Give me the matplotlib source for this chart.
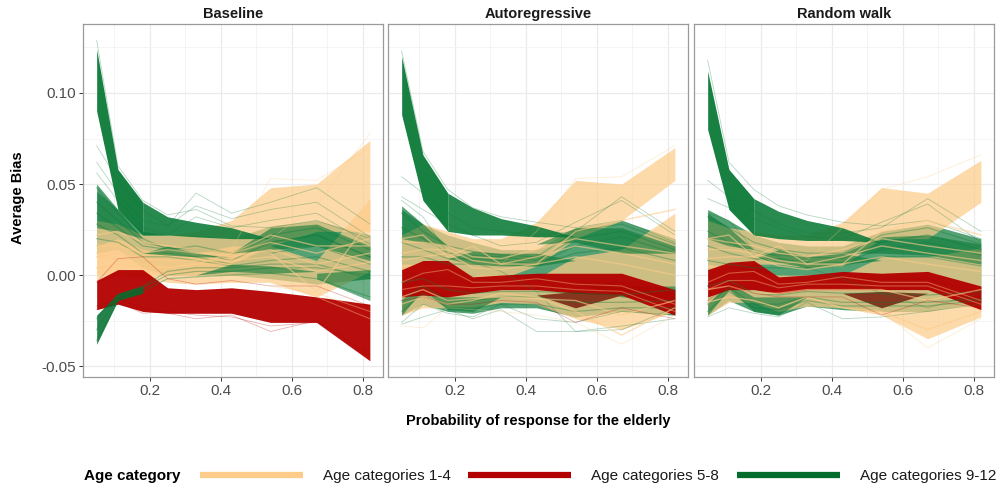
import numpy as np
import matplotlib
matplotlib.use("Agg")
from matplotlib import pyplot as plt
from matplotlib.lines import Line2D

plt.rcParams['font.family'] = ['Liberation Sans', 'DejaVu Sans']

PEACH = "#FDCC8A"
RED = "#B30000"
GREEN = "#006D2C"
MID_GREEN = "#0B7A38"
nan = np.nan

panel_titles = ["Baseline", "Autoregressive", "Random walk"]
legend_labels = ["Age categories 1-4", "Age categories 5-8", "Age categories 9-12"]
prob_elderly = [0.05, 0.11, 0.18, 0.25, 0.33, 0.43, 0.54, 0.67, 0.82]

# bands are (lower edge, upper edge), lines are single runs, all read at prob_elderly
base_green_wide = [([.012, .014, .004, .000, .000, .000, -.002, -.005, -.002], [.050, .036, .024, .022, .022, .020, .027, .030, .022])]
base_spike = [([.090, .036, .022, nan, nan, nan, nan, nan, nan], [.124, .058, .040, nan, nan, nan, nan, nan, nan])]
base_fan = [([nan, nan, .022, .022, .021, .020, .020, nan, nan], [nan, nan, .040, .032, .029, .026, .020, nan, nan])]
base_peach = [
    ([.000, .001, .000, .000, .000, .006, .016, .024, .024], [.030, .028, .022, .022, .024, .030, .048, .050, .074]),
    ([-.004, .000, -.002, -.004, -.005, -.004, -.004, -.012, .002], [.016, .020, .014, .012, .012, .016, .016, .008, .042]),
]
base_patches = [
    ([nan, nan, .012, .011, .010, .010, nan, nan, nan], [nan, nan, .012, .016, .012, .010, nan, nan, nan]),
    ([nan, nan, nan, nan, nan, .012, .014, .016, .008], [nan, nan, nan, nan, nan, .012, .026, .028, .016]),
    ([nan, nan, nan, nan, .000, .002, .001, .002, nan], [nan, nan, nan, nan, .000, .006, .005, .002, nan]),
    ([nan, nan, nan, nan, nan, nan, nan, -.002, -.014], [nan, nan, nan, nan, nan, nan, nan, .001, .003]),
    ([.026, .024, .020, nan, nan, nan, nan, nan, nan], [.046, .036, .020, nan, nan, nan, nan, nan, nan]),
]
base_green_lines = [
    [.048, .034, .020, .014, .016, .012, .022, .026, .014],
    [.040, .030, .018, .015, .014, .012, .018, .022, .010],
    [.034, .026, .016, .014, .012, .008, .018, .022, .010],
    [.028, .022, .012, .012, .010, .006, .012, .016, .006],
    [.020, .018, .010, .010, .008, .005, .008, .010, .002],
    [-.024, -.011, -.006, .002, .004, .004, .006, .006, -.002],
    [-.030, -.012, -.007, .000, .002, .002, .004, .004, .000],
    [-.036, -.014, -.009, -.002, -.001, .000, .001, -.002, -.012],
]
base_green_stray = [
    [.071, .052, .036, .027, .045, .034, .040, .048, .028],
    [.062, .045, .030, .027, .038, .031, .036, .040, .021],
    [.056, .041, .026, .022, .032, .026, .030, .034, .017],
    [.129, .060, .041, .033, .036, .027, .026, .030, .020],
]
base_peach_lines = [
    [.012, .008, .006, .004, .006, .006, .012, -.009, .030],
    [.016, .016, .012, .014, .012, .010, .014, .006, .012],
    [.010, .012, .009, .008, .008, .008, .010, .002, .007],
    [.022, .024, .018, .016, .014, .012, .022, .016, .016],
    [.004, .006, .004, .004, .006, .012, .018, .012, .020],
]
base_peach_stray = [
    [.018, .010, .010, .004, .007, .010, .020, .038, .078],
    [.010, .009, .005, .002, .004, .014, .053, .052, .070],
]
base_red = [([-.019, -.016, -.020, -.021, -.021, -.021, -.026, -.026, -.047], [-.003, .003, .003, -.007, -.008, -.007, -.009, -.012, -.016])]
base_red_lines = [
    [-.017, -.013, -.018, -.021, -.024, -.022, -.031, -.025, -.044],
    [-.019, -.015, -.021, -.020, -.022, -.023, -.028, -.026, -.047],
    [-.004, .009, .010, -.002, -.005, -.003, -.006, -.006, -.017],
]
base_peach_over = [
    [nan, nan, nan, nan, nan, nan, -.006, -.010, -.020],
    [nan, nan, nan, nan, nan, nan, -.004, -.012, -.024],
]
base_top = [([-.038, -.014, -.010, nan, nan, nan, nan, nan, nan], [-.022, -.010, -.006, nan, nan, nan, nan, nan, nan])]

auto_green_wide = [([-.022, -.016, -.020, -.021, -.018, -.018, -.023, -.020, -.022], [.038, .028, .022, .018, .014, .014, .026, .030, .020])]
auto_spike = [([.088, .041, .024, nan, nan, nan, nan, nan, nan], [.120, .066, .045, nan, nan, nan, nan, nan, nan])]
auto_fan = [([nan, nan, .024, .022, .022, .021, .021, nan, nan], [nan, nan, .045, .037, .031, .027, .021, nan, nan])]
auto_peach = [
    ([.002, .002, .002, .000, -.002, .005, .020, .030, .052], [.022, .028, .024, .020, .020, .029, .052, .050, .070]),
    ([-.022, -.018, -.018, -.018, -.015, -.016, -.024, -.030, -.020], [.006, .006, .002, .000, .000, -.002, .010, .014, .034]),
]
auto_patches = [
    ([nan, nan, .009, .006, .005, .005, .008, nan, nan], [nan, nan, .009, .013, .012, .012, .008, nan, nan]),
    ([nan, nan, nan, nan, nan, .017, .018, .012, .012], [nan, nan, nan, nan, nan, .017, .026, .026, .016]),
    ([.020, .018, .016, nan, nan, nan, nan, nan, nan], [.036, .028, .016, nan, nan, nan, nan, nan, nan]),
    ([-.022, -.008, -.019, -.020, -.012, nan, nan, nan, nan], [-.014, -.004, -.012, -.012, -.012, nan, nan, nan, nan]),
    ([nan, nan, nan, nan, nan, nan, -.004, -.012, -.014], [nan, nan, nan, nan, nan, nan, -.004, -.006, -.006]),
]
auto_green_lines = [
    [.034, .024, .016, .013, .011, .010, .024, .028, .017],
    [.026, .020, .012, .011, .010, .008, .020, .024, .014],
    [.018, .014, .009, .009, .008, .006, .016, .021, .012],
    [.010, .010, .006, .006, .006, .005, .012, .015, .008],
    [-.004, -.002, -.008, -.010, -.009, -.009, -.010, -.011, -.008],
    [-.014, -.006, -.014, -.014, -.012, -.012, -.015, -.015, -.014],
    [-.020, -.010, -.018, -.018, -.016, -.016, -.020, -.018, -.018],
]
auto_green_stray = [
    [.054, .045, .034, .026, .024, .022, .024, .043, .024],
    [.043, .036, .028, .022, .016, .018, .029, .041, .022],
    [.041, .032, .012, .007, .002, -.009, -.031, -.030, -.018],
    [-.027, -.023, -.019, -.024, -.019, -.031, -.031, -.028, -.024],
    [-.026, -.016, -.021, -.023, -.016, -.024, -.026, -.020, -.022],
    [.123, .068, .047, .037, .032, .029, .026, .030, .018],
]
auto_peach_lines = [
    [.020, .022, .010, .016, .006, .006, .024, .030, .036],
    [-.016, -.012, -.016, -.014, -.010, -.012, -.020, -.033, -.018],
    [.012, .014, .014, .008, .006, .010, .016, .012, .006],
    [.008, .010, .012, .004, .003, .006, .010, .006, .000],
    [.018, .018, .016, .010, .009, .014, .020, .016, .012],
    [-.012, -.008, -.014, -.013, -.012, -.013, -.014, -.022, -.014],
]
auto_peach_stray = [
    [.012, .012, .010, .006, .006, .024, .053, .054, .071],
    [-.028, -.029, -.018, -.019, -.020, -.022, -.026, -.038, -.022],
]
auto_red = [([-.012, -.011, -.012, -.010, -.008, -.008, -.010, -.011, -.022], [.003, .008, .008, -.001, .000, .001, .001, .001, -.008])]
auto_red_lines = [
    [-.014, -.012, -.016, -.016, -.014, -.015, -.026, -.018, -.024],
    [-.008, -.002, -.002, -.005, -.003, -.003, -.004, -.004, -.014],
]
auto_peach_over = [
    [-.004, .001, .003, -.004, -.004, -.002, -.005, -.006, -.016],
    [-.008, -.006, -.006, -.007, -.006, -.006, -.008, -.009, -.020],
]
auto_top = [([nan, nan, nan, nan, nan, -.011, -.018, -.011, nan], [nan, nan, nan, nan, nan, -.011, -.009, -.011, nan])]

rw_green_wide = [([-.022, -.014, -.020, -.022, -.017, -.019, -.020, -.020, -.015], [.036, .030, .022, .018, .016, .016, .024, .028, .020])]
rw_spike = [([.080, .036, .022, nan, nan, nan, nan, nan, nan], [.112, .058, .042, nan, nan, nan, nan, nan, nan])]
rw_fan = [([nan, nan, .022, .020, .019, .019, .018, nan, nan], [nan, nan, .042, .035, .030, .026, .018, nan, nan])]
rw_peach = [
    ([.004, .004, .006, .006, .004, .005, .020, .020, .040], [.030, .026, .024, .022, .022, .029, .048, .045, .063]),
    ([-.022, -.015, -.015, -.020, -.017, -.018, -.022, -.035, -.023], [.006, .004, .002, .000, .000, .000, .010, .010, .015]),
]
rw_patches = [
    ([nan, nan, .009, .007, .004, .006, .008, nan, nan], [nan, nan, .009, .014, .010, .012, .008, nan, nan]),
    ([nan, nan, nan, nan, nan, .012, .012, .011, .006], [nan, nan, nan, nan, nan, .012, .021, .022, .017]),
    ([.020, .016, .014, nan, nan, nan, nan, nan, nan], [.034, .026, .014, nan, nan, nan, nan, nan, nan]),
    ([-.022, -.008, -.020, -.022, -.012, nan, nan, nan, nan], [-.016, -.004, -.012, -.012, -.012, nan, nan, nan, nan]),
]
rw_green_lines = [
    [.032, .026, .018, .014, .012, .012, .022, .026, .017],
    [.024, .018, .012, .011, .010, .009, .018, .022, .014],
    [.016, .012, .009, .009, .007, .007, .014, .018, .011],
    [.008, .006, .004, .004, .004, .005, .010, .010, .005],
    [-.006, -.003, -.010, -.011, -.009, -.010, -.010, -.011, -.009],
    [-.016, -.007, -.016, -.016, -.012, -.015, -.015, -.015, -.013],
    [-.020, -.009, -.018, -.019, -.014, -.017, -.017, -.017, -.014],
]
rw_green_stray = [
    [.052, .043, .035, .028, .023, .023, .026, .042, .024],
    [.042, .037, .031, .026, .021, .020, .029, .039, .018],
    [.034, .030, .014, .010, .004, -.002, -.010, -.018, -.010],
    [-.023, -.018, -.021, -.023, -.015, -.024, -.023, -.020, -.016],
    [.118, .062, .047, .038, .033, .029, .027, .030, .020],
]
rw_peach_lines = [
    [.020, .022, .010, .016, .006, .006, .024, .030, .022],
    [-.015, -.012, -.014, -.018, -.012, -.018, -.020, -.030, -.020],
    [.014, .014, .012, .008, .006, .010, .016, .012, .008],
    [.009, .010, .010, .005, .003, .006, .010, .006, .002],
    [.020, .018, .016, .012, .010, .014, .020, .016, .012],
    [-.008, -.006, -.010, -.010, -.008, -.008, -.008, -.014, -.008],
]
rw_peach_stray = [
    [.014, .016, .012, .006, .008, .026, .047, .054, .066],
    [-.015, -.012, -.014, -.018, -.012, -.018, -.020, -.040, -.024],
]
rw_red = [([-.012, -.008, -.008, -.010, -.008, -.008, -.008, -.008, -.019], [.003, .007, .008, -.001, .000, .002, .001, .002, -.006])]
rw_red_lines = [
    [-.014, -.006, -.010, -.012, -.012, -.012, -.022, -.014, -.018],
    [-.006, .000, .000, -.005, -.003, -.002, -.002, -.002, -.010],
]
rw_peach_over = [
    [-.004, .001, .002, -.005, -.004, -.001, -.004, -.004, -.014],
    [-.008, -.003, -.003, -.007, -.005, -.005, -.006, -.006, -.016],
]
rw_top = [([nan, nan, nan, nan, nan, -.010, -.018, -.010, nan], [nan, nan, nan, nan, nan, -.010, -.009, -.010, nan])]

panels = [
    (base_green_wide, base_spike, base_fan, base_peach, base_patches, base_green_lines, base_green_stray,
     base_peach_lines, base_peach_stray, base_red, base_red_lines, base_peach_over, base_top),
    (auto_green_wide, auto_spike, auto_fan, auto_peach, auto_patches, auto_green_lines, auto_green_stray,
     auto_peach_lines, auto_peach_stray, auto_red, auto_red_lines, auto_peach_over, auto_top),
    (rw_green_wide, rw_spike, rw_fan, rw_peach, rw_patches, rw_green_lines, rw_green_stray,
     rw_peach_lines, rw_peach_stray, rw_red, rw_red_lines, rw_peach_over, rw_top),
]


def draw_bands(ax, bands, colour, alpha):
    for low, high in bands:
        ax.fill_between(prob_elderly, low, high, color=colour, alpha=alpha, lw=0)


def draw_lines(ax, lines, colour, alpha, lw):
    for values in lines:
        ax.plot(prob_elderly, values, color=colour, alpha=alpha, lw=lw)


W, H = 997, 490
fig = plt.figure(figsize=(W / 100, H / 100), dpi=100)
lefts = [83, 388, 694]
for i, (left, title, data) in enumerate(zip(lefts, panel_titles, panels)):
    ax = fig.add_axes([left / W, 1 - 377 / H, 300 / W, 353 / H])
    (green_wide, spike, fan, peach, patches, green_lines, green_stray,
     peach_lines, peach_stray, red, red_lines, peach_over, top) = data

    draw_bands(ax, green_wide, MID_GREEN, 0.7)
    draw_lines(ax, green_stray, MID_GREEN, 0.3, 0.6)
    draw_lines(ax, peach_stray, PEACH, 0.35, 0.6)
    draw_bands(ax, peach, PEACH, 0.72)
    draw_bands(ax, spike, MID_GREEN, 0.95)
    draw_bands(ax, fan, MID_GREEN, 0.88)
    draw_bands(ax, patches, MID_GREEN, 0.6)
    draw_lines(ax, green_lines, MID_GREEN, 0.35, 0.9)
    draw_lines(ax, peach_lines, PEACH, 0.6, 1.0)
    draw_bands(ax, red, RED, 0.95)
    draw_lines(ax, red_lines, RED, 0.3, 0.6)
    draw_lines(ax, peach_over, PEACH, 0.4, 0.8)
    draw_bands(ax, top, GREEN if i == 0 else "#7A1E0C", 0.85)

    ax.set_xlim(0.0115, 0.857)
    ax.set_ylim(-0.056, 0.1379)
    ax.set_xticks([0.2, 0.4, 0.6, 0.8])
    ax.set_xticks([0.1, 0.3, 0.5, 0.7], minor=True)
    ax.set_yticks([-0.05, 0.0, 0.05, 0.10])
    ax.set_yticks([-0.025, 0.025, 0.075, 0.125], minor=True)
    ax.grid(which="major", color="#EBEBEB", lw=0.9)
    ax.grid(which="minor", color="#F3F3F3", lw=0.6)
    ax.set_axisbelow(True)
    ax.tick_params(which="minor", length=0)
    ax.tick_params(which="major", length=3, width=0.7, color="#333333",
                   labelsize=11, labelcolor="#4D4D4D", pad=2)
    ax.set_xticklabels(["0.2", "0.4", "0.6", "0.8"])
    if i == 0:
        ax.set_yticklabels(["-0.05", "0.00", "0.05", "0.10"])
    else:
        ax.tick_params(axis="y", which="major", length=0, labelleft=False)
    for spine in ax.spines.values():
        spine.set_color("#9A9A9A")
        spine.set_linewidth(0.9)
    ax.set_title(title, fontsize=10.5, fontweight="bold", color="#1A1A1A", pad=4)

fig.text(538 / W, 1 - 421 / H, "Probability of response for the elderly",
         ha="center", va="center", fontsize=10.5, fontweight="bold")
fig.text(18 / W, 1 - 198 / H, "Average Bias", rotation=90,
         ha="center", va="center", fontsize=10.5, fontweight="bold")

fig.text(84 / W, 1 - 476 / H, "Age category", ha="left", va="center",
         fontsize=11, fontweight="bold")
for start, label, colour in zip([200, 468, 737], legend_labels, [PEACH, RED, GREEN]):
    fig.add_artist(Line2D([start / W, (start + 103) / W], [1 - 475 / H, 1 - 475 / H],
                          color=colour, lw=4.5, solid_capstyle="butt"))
    fig.text((start + 123) / W, 1 - 476 / H, label, ha="left", va="center",
             fontsize=11, color="#1A1A1A")

fig.savefig("out.png", dpi=100)
